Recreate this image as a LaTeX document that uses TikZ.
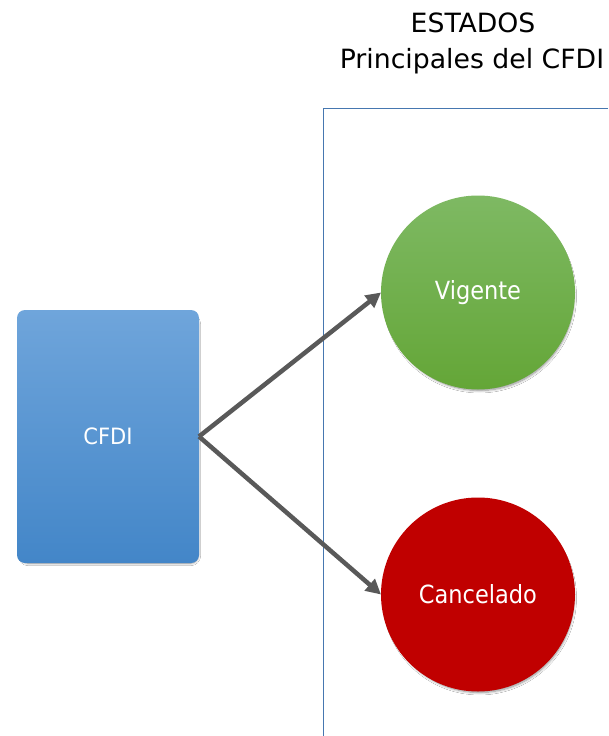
\documentclass[tikz,border=0pt]{standalone}
\usepackage{fontspec}
\setmainfont{DejaVu Sans Condensed}
\newfontfamily\titlefont[FakeStretch=1.12]{DejaVu Sans Condensed}
\newfontfamily\boxfont[FakeStretch=1.04]{DejaVu Sans Condensed}
\usetikzlibrary{arrows.meta,shadows.blur}
\definecolor{framec}{HTML}{4677B0}
\definecolor{arrc}{HTML}{595959}
\definecolor{bluetop}{HTML}{6FA5DB}
\definecolor{bluebot}{HTML}{4386C8}
\definecolor{greentop}{HTML}{7EB963}
\definecolor{greenbot}{HTML}{64A637}
\definecolor{redc}{HTML}{C00000}
\tikzset{
  shad/.style={blur shadow={shadow xshift=1.5pt,shadow yshift=-3.5pt,shadow scale=0.975,shadow blur radius=2.5pt,shadow blur steps=8,shadow opacity=45}},
  cfdibox/.style={rectangle,rounded corners=8pt,minimum width=182pt,minimum height=253pt,inner sep=0pt,outer sep=0pt,top color=bluetop,bottom color=bluebot,shad,text=white,font=\boxfont\fontsize{22.5}{26}\selectfont},
  state/.style={circle,minimum size=194pt,inner sep=0pt,outer sep=0pt,shad,text=white,font=\fontsize{25}{29}\selectfont},
  conn/.style={draw=arrc,line width=4.5pt,-{Triangle[length=15pt,width=15pt]}},
  titletext/.style={anchor=base,inner sep=0pt,font=\titlefont\fontsize{26.5}{30}\selectfont,text=black}
}
\begin{document}
\begin{tikzpicture}[x=1pt,y=-1pt]
\useasboundingbox[fill=white] (0,0) rectangle (608,736);
\node[titletext] (title1) at (473,32) {ESTADOS};
\node[titletext] (title2) at (472,68) {Principales del CFDI};
\draw[framec,line width=1pt] (608,108) -- (323.5,108) -- (323.5,736);
\node[cfdibox] (cfdi) at (108,436.5) {CFDI};
\node[state,top color=greentop,bottom color=greenbot] (vig) at (478,292.5) {Vigente};
\node[state,fill=redc] (can) at (478,594.5) {Cancelado};
\draw[conn] (cfdi.east) -- (vig.west);
\draw[conn] (cfdi.east) -- (can.west);
\end{tikzpicture}
\end{document}
